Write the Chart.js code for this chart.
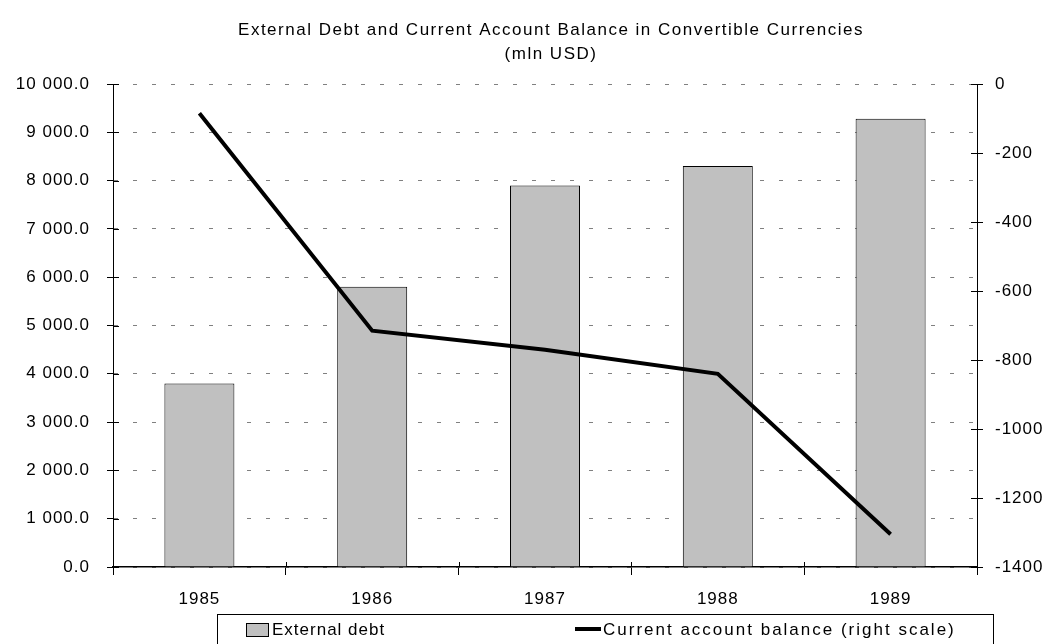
<!DOCTYPE html>
<html>
<head>
<meta charset="utf-8">
<script src="https://cdn.jsdelivr.net/npm/chart.js@4.4.0/dist/chart.umd.min.js"></script>
<style>
  html, body { margin: 0; padding: 0; background: #fff; }
  #wrap { width: 1048px; height: 644px; }
</style>
</head>
<body>
<div id="wrap"><canvas id="debt_chart" width="1048" height="644"></canvas></div>
<script>
// data
let years = ["1985", "1986", "1987", "1988", "1989"];
let externalDebt = [3800, 5800, 7900, 8300, 9280];
let currentAccount = [-85, -715, -770, -840, -1305];
let titleLines = ["External Debt and Current Account Balance in Convertible Currencies", "(mln USD)"];
let legendLabels = ["External debt", "Current account balance (right scale)"];

const FONT = "'Liberation Sans', Arial, sans-serif";
const barGray = "#c0c0c0";

function fmtDebt(v) {
    let s = Number(v).toFixed(1);
    let parts = s.split(".");
    return parts[0].replace(/\B(?=(\d{3})+(?!\d))/g, " ") + "." + parts[1];
}

// spaced text like the original
const spacing = {
    id: "spacing",
    beforeLayout(chart) { chart.ctx.letterSpacing = "1px"; },
    beforeDraw(chart) { chart.ctx.letterSpacing = "1px"; }
};

// tick marks that cross the axis lines
const crossTicks = {
    id: "crossTicks",
    afterDraw(chart) {
        let ctx = chart.ctx;
        let a = chart.chartArea;
        ctx.save();
        ctx.strokeStyle = "#000";
        ctx.lineWidth = 1;
        ctx.beginPath();
        let y = chart.scales.y;
        y.ticks.forEach(function (t, i) {
            let p = Math.round(y.getPixelForTick(i)) + 0.5;
            ctx.moveTo(a.left, p); ctx.lineTo(a.left + 6, p);
        });
        let y1 = chart.scales.y1;
        y1.ticks.forEach(function (t, i) {
            let p = Math.round(y1.getPixelForTick(i)) + 0.5;
            ctx.moveTo(a.right - 6, p); ctx.lineTo(a.right, p);
        });
        let n = years.length;
        for (let i = 0; i <= n; i++) {
            let p = Math.round(a.left + i * (a.right - a.left) / n) + 0.5;
            ctx.moveTo(p, a.bottom - 5); ctx.lineTo(p, a.bottom);
        }
        ctx.stroke();
        ctx.restore();
    }
};

// title and boxed legend
const titleLegend = {
    id: "titleLegend",
    afterDraw(chart) {
        let ctx = chart.ctx;
        ctx.save();
        ctx.fillStyle = "#000";
        ctx.textAlign = "center";
        ctx.textBaseline = "middle";
        ctx.letterSpacing = "1.5px";
        ctx.font = "17px " + FONT;
        ctx.fillText(titleLines[0], 551, 30);
        ctx.fillText(titleLines[1], 551, 54);

        ctx.strokeStyle = "#000";
        ctx.lineWidth = 1;
        ctx.strokeRect(217.5, 614.5, 776, 40);

        ctx.fillStyle = barGray;
        ctx.fillRect(246, 623, 22, 13);
        ctx.strokeRect(246.5, 623.5, 22, 13);

        ctx.beginPath();
        ctx.lineWidth = 4;
        ctx.moveTo(575, 629);
        ctx.lineTo(601, 629);
        ctx.stroke();

        ctx.fillStyle = "#000";
        ctx.textAlign = "left";
        ctx.font = "17px " + FONT;
        ctx.letterSpacing = "1px";
        ctx.fillText(legendLabels[0], 272, 630);
        ctx.letterSpacing = "2px";
        ctx.fillText(legendLabels[1], 603, 630);
        ctx.restore();
    }
};

Chart.defaults.color = "#000";
Chart.defaults.font.family = FONT;
Chart.defaults.font.size = 17;

new Chart("debt_chart", {
    type: "bar",
    data: {
        labels: years,
        datasets: [{
            type: "line",
            label: legendLabels[1],
            data: currentAccount,
            yAxisID: "y1",
            borderColor: "#000",
            borderWidth: 4,
            pointRadius: 0,
            tension: 0,
            fill: false,
            order: 0
        }, {
            label: legendLabels[0],
            data: externalDebt,
            yAxisID: "y",
            backgroundColor: barGray,
            borderColor: "#000",
            borderWidth: 1,
            barPercentage: 0.405,
            categoryPercentage: 1,
            order: 1
        }]
    },
    options: {
        responsive: false,
        animation: false,
        layout: { padding: { top: 84, bottom: 37, left: 0, right: 0 } },
        plugins: {
            legend: { display: false },
            title: { display: false },
            tooltip: { enabled: false }
        },
        scales: {
            x: {
                offset: true,
                grid: { offset: true, drawOnChartArea: false, drawTicks: true, tickLength: 8, tickColor: "#000" },
                border: { color: "#000", width: 1.5 },
                ticks: { padding: 14, maxRotation: 0 },
                afterFit(scale) { scale.height = 40; }
            },
            y: {
                position: "left",
                min: 0,
                max: 10000,
                ticks: { stepSize: 1000, padding: 17, callback: fmtDebt },
                grid: { color: "#808080", tickColor: "#000", tickLength: 6, drawTicks: true },
                border: { color: "#000", width: 1, dash: [4, 15] },
                afterFit(scale) { scale.width = 113; }
            },
            y1: {
                position: "right",
                min: -1400,
                max: 0,
                ticks: { stepSize: 200, padding: 12, callback: function (v) { return String(v); } },
                grid: { drawOnChartArea: false, tickColor: "#000", tickLength: 6 },
                border: { color: "#000", width: 1 },
                afterFit(scale) { scale.width = 71; }
            }
        }
    },
    plugins: [spacing, crossTicks, titleLegend]
});
</script>
</body>
</html>
